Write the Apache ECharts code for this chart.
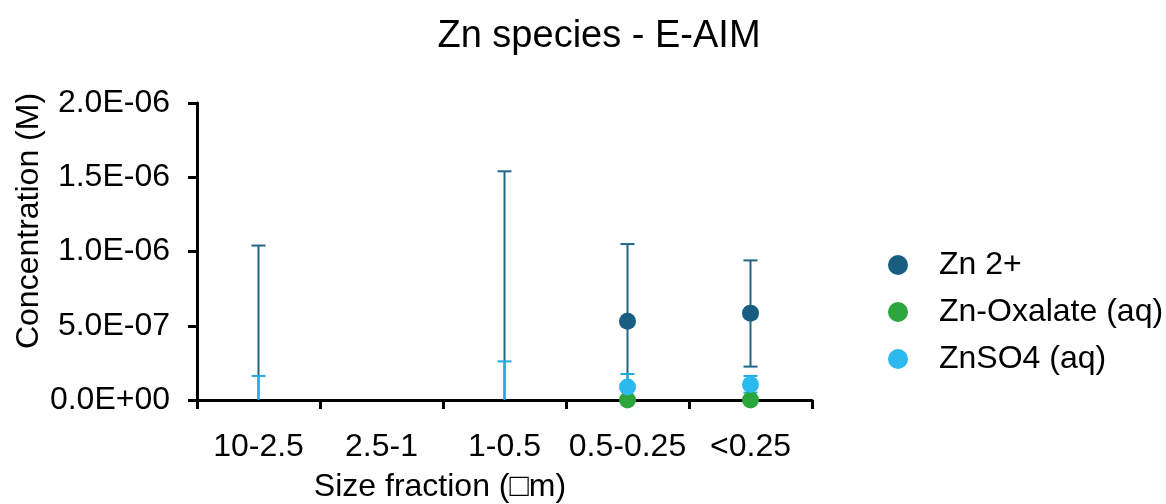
<!DOCTYPE html>
<html>
<head>
<meta charset="utf-8">
<script src="https://cdn.jsdelivr.net/npm/echarts@6/dist/echarts.min.js"></script>
<style>html,body{margin:0;padding:0;background:#fff}#c{width:1166px;height:504px}</style>
</head>
<body>
<div id="c"></div>
<script>
const categories = ['10-2.5', '2.5-1', '1-0.5', '0.5-0.25', '<0.25'];
const zn2 = [null, null, null, 5.3e-7, 5.85e-7];
const znOxalate = [null, null, null, 0, 0];
const znSO4 = [null, null, null, 8.7e-8, 1.05e-7];
// error bar [low, high] per category
const zn2Err = [[0, 1.04e-6], null, [0, 1.54e-6], [1.4e-8, 1.05e-6], [2.25e-7, 9.4e-7]];
const znSO4Err = [[0, 1.62e-7], null, [0, 2.6e-7], [0, 1.75e-7], [5e-8, 1.62e-7]];
const yTicks = [0, 5e-7, 1e-6, 1.5e-6, 2e-6];

const FONT = 'Liberation Sans, Arial, sans-serif';
const C_ZN2 = '#175e80', C_OX = '#2ca53c', C_SO4 = '#2cb9ee';
const C_ZN2_ERR = '#1f6688', C_SO4_ERR = '#22a9e2';

function fmtExp(v) {
  const s = Number(v).toExponential(1);
  const [m, e] = s.split('e');
  const sign = e[0] === '-' ? '-' : '+';
  const d = e.replace(/^[+-]/, '').padStart(2, '0');
  return m + 'E' + sign + d;
}

function errData(arr) {
  const out = [];
  arr.forEach((r, i) => { if (r) out.push([i, r[0], r[1]]); });
  return out;
}

function errRender(color) {
  return function (params, api) {
    const x = api.value(0), lo = api.value(1), hi = api.value(2);
    const p1 = api.coord([x, lo]);
    const p2 = api.coord([x, hi]);
    const hw = 7;
    const st = { stroke: color, lineWidth: 2 };
    const ch = [{ type: 'line', shape: { x1: p1[0], y1: p1[1], x2: p2[0], y2: p2[1] }, style: st }];
    if (hi > 0) ch.push({ type: 'line', shape: { x1: p2[0] - hw, y1: p2[1], x2: p2[0] + hw, y2: p2[1] }, style: st });
    if (lo > 0) ch.push({ type: 'line', shape: { x1: p1[0] - hw, y1: p1[1], x2: p1[0] + hw, y2: p1[1] }, style: st });
    return { type: 'group', children: ch };
  };
}

const chart = echarts.init(document.getElementById('c'));
chart.setOption({
  animation: false,
  textStyle: { fontFamily: FONT },
  title: {
    text: 'Zn species - E-AIM', left: 594, top: 13, textAlign: 'center',
    textStyle: { fontFamily: FONT, fontSize: 38, fontWeight: 'normal', color: '#000' }
  },
  legend: {
    orient: 'vertical', left: 883, top: 244, itemGap: 15,
    itemWidth: 20, itemHeight: 20, icon: 'circle',
    data: ['Zn 2+', 'Zn-Oxalate (aq)', 'ZnSO4 (aq)'],
    textStyle: { fontFamily: FONT, fontSize: 32, color: '#000', padding: [0, 0, 0, 26], lineHeight: 32 }
  },
  grid: { left: 197, right: 354, top: 103, bottom: 104, containLabel: false },
  xAxis: {
    type: 'category', data: categories, boundaryGap: true,
    axisLine: { lineStyle: { color: '#000', width: 3 } },
    axisTick: { show: true, length: 9, lineStyle: { color: '#000', width: 3 }, alignWithLabel: false },
    axisLabel: { color: '#000', fontSize: 32, fontFamily: FONT, margin: 31, interval: 0 },
    splitLine: { show: false }
  },
  yAxis: {
    type: 'value', min: yTicks[0], max: yTicks[yTicks.length - 1], interval: yTicks[1] - yTicks[0],
    axisLine: { show: true, lineStyle: { color: '#000', width: 3 } },
    axisTick: { show: true, length: 9, lineStyle: { color: '#000', width: 3 } },
    axisLabel: { color: '#000', fontSize: 32, fontFamily: FONT, margin: 27, formatter: fmtExp },
    splitLine: { show: false }
  },
  graphic: [
    { type: 'text', rotation: Math.PI / 2, x: 29, y: 221, style: { text: 'Concentration (M)', fontSize: 32, fontFamily: FONT, fill: '#000', textAlign: 'center', textVerticalAlign: 'middle' } },
    { type: 'text', x: 440, y: 487, style: { text: 'Size fraction (\u25A1m)', fontSize: 32, fontFamily: FONT, fill: '#000', textAlign: 'center', textVerticalAlign: 'middle' } }
  ],
  series: [
    { type: 'custom', name: 'zn2err', data: errData(zn2Err), renderItem: errRender(C_ZN2_ERR), clip: true, z: 1, silent: true, encode: { x: 0, y: [1, 2] } },
    { type: 'custom', name: 'so4err', data: errData(znSO4Err), renderItem: errRender(C_SO4_ERR), clip: true, z: 2, silent: true, encode: { x: 0, y: [1, 2] } },
    { type: 'scatter', name: 'Zn 2+', data: zn2, symbol: 'circle', symbolSize: 17, itemStyle: { color: C_ZN2, opacity: 1 }, z: 5 },
    { type: 'scatter', name: 'Zn-Oxalate (aq)', data: znOxalate, symbol: 'circle', symbolSize: 17, itemStyle: { color: C_OX, opacity: 1 }, z: 5 },
    { type: 'scatter', name: 'ZnSO4 (aq)', data: znSO4, symbol: 'circle', symbolSize: 17, itemStyle: { color: C_SO4, opacity: 1 }, z: 6 }
  ]
});
</script>
</body>
</html>
